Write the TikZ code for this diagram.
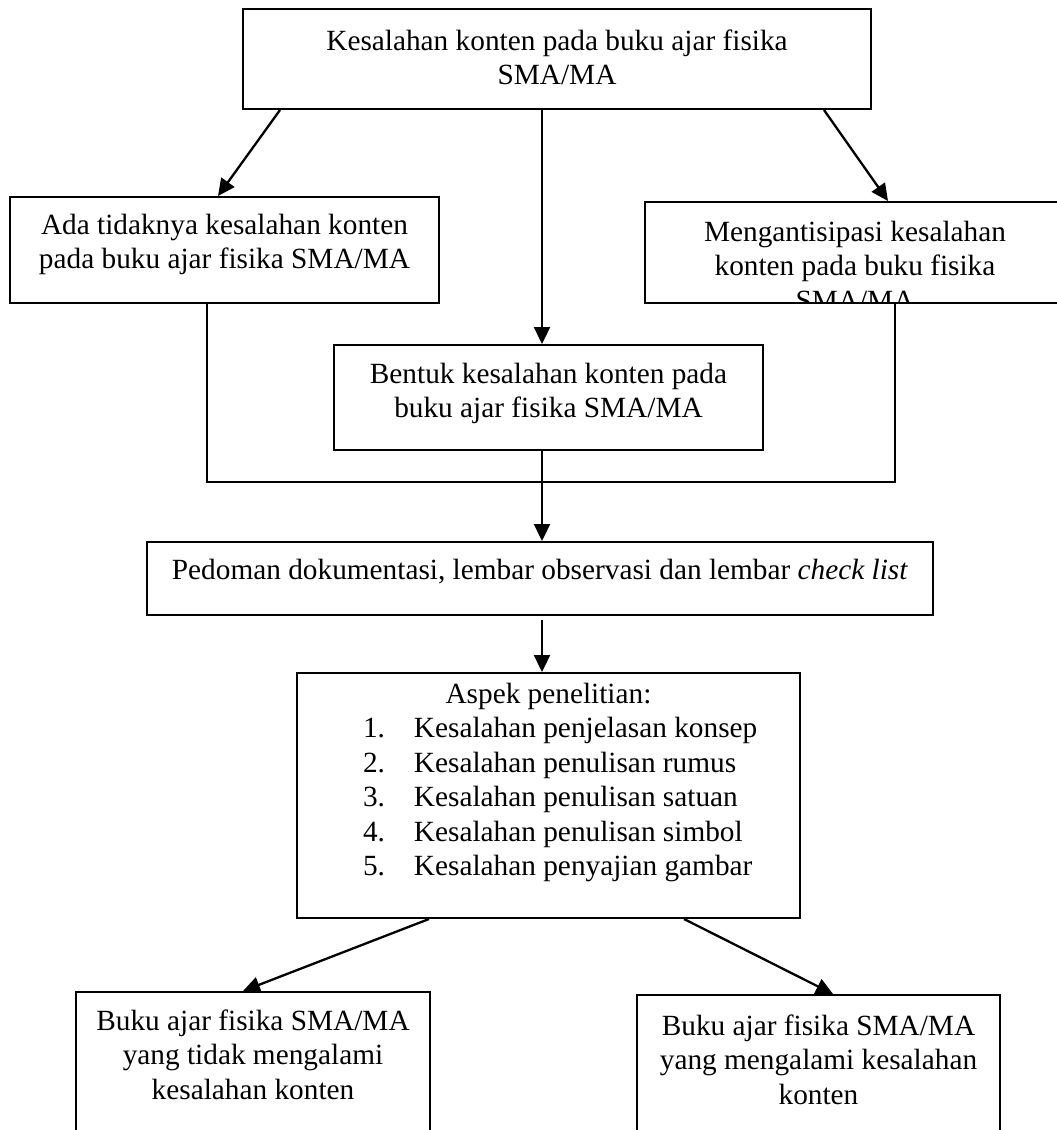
\documentclass[tikz,border=0pt]{standalone}
\usepackage{fontspec}
\setmainfont{Liberation Serif}
\usetikzlibrary{arrows.meta, calc}

\newcommand{\flowtext}[4][38]{\parbox[c][#3pt][t]{#2pt}{\centering\rule{0pt}{#1pt}#4}}
\newcommand{\aspekrow}[2]{\hspace*{66pt}\makebox[51pt][l]{#1}#2}

\begin{document}
\begin{tikzpicture}[x=1pt, y=-1pt, >={Triangle[length=17pt, width=16pt]}]
  \tikzstyle{boxfont}=[font=\fontsize{29.3}{34.5}\selectfont]
  \tikzstyle{box}=[draw, line width=2pt, inner sep=0pt, anchor=north west, boxfont]
  \tikzstyle{link}=[line width=2.3pt]
  \useasboundingbox (0,0) rectangle (1057,1130);
  \clip (0,0) rectangle (1057,1130);

  \node[box] (masalah) at (242,8) {\flowtext[41]{628}{100}{Kesalahan konten pada buku ajar fisika\\SMA/MA}};
  \node[box] (ada) at (9,196) {\flowtext[37]{429}{106}{Ada tidaknya kesalahan konten\\pada buku ajar fisika SMA/MA}};
  \node[box, minimum width=420pt, minimum height=101pt,
    path picture={\node[anchor=north, inner sep=0pt, boxfont] (antisipasi-txt) at (path picture bounding box.north)
      {\flowtext{420}{140}{Mengantisipasi kesalahan\\konten pada buku fisika\\SMA/MA}};}]
    (antisipasi) at (644,201) {};
  \node[box] (bentuk) at (333,344) {\flowtext{429}{105}{Bentuk kesalahan konten pada\\buku ajar fisika SMA/MA}};
  \node[box] (pedoman) at (146,541) {\flowtext[37]{786}{73}{Pedoman dokumentasi, lembar observasi dan lembar \textit{check list}}};
  \node[box] (aspek) at (296,672) {\flowtext[30]{503}{245}{Aspek penelitian:\par\raggedright
    \aspekrow{1.}{Kesalahan penjelasan konsep}\\
    \aspekrow{2.}{Kesalahan penulisan rumus}\\
    \aspekrow{3.}{Kesalahan penulisan satuan}\\
    \aspekrow{4.}{Kesalahan penulisan simbol}\\
    \aspekrow{5.}{Kesalahan penyajian gambar}}};
  \node[box] (tanpa) at (75,991) {\flowtext{354}{160}{Buku ajar fisika SMA/MA\\yang tidak mengalami\\kesalahan konten}};
  \node[box] (dengan) at (636,994) {\flowtext[40]{363}{160}{Buku ajar fisika SMA/MA\\yang mengalami kesalahan\\konten}};

  \coordinate (spine) at (542,0);
  \coordinate (kiri) at (207,482);
  \coordinate (kanan) at (895,482);

  \draw[link, ->] ($(masalah.south west)+(38,0)$) -- ($(ada.north west)+(209,0)$);
  \draw[link, ->] ($(masalah.south east)+(-48,0)$) -- ($(antisipasi.north west)+(244,0)$);
  \draw[link, ->] (masalah.south -| spine) -- (bentuk.north -| spine);
  \draw[link] (ada.south -| kiri) -- (kiri) -- (kanan) -- (antisipasi.south -| kanan);
  \draw[link, ->] (bentuk.south -| spine) -- (pedoman.north -| spine);
  \draw[link, ->, shorten <=4pt] (pedoman.south -| spine) -- (aspek.north -| spine);
  \draw[link, ->] ($(aspek.south west)+(133,0)$) -- ($(tanpa.north west)+(168,0)$);
  \draw[link, ->] ($(aspek.south west)+(388,0)$) -- ($(dengan.north west)+(197,0)$);
\end{tikzpicture}
\end{document}
